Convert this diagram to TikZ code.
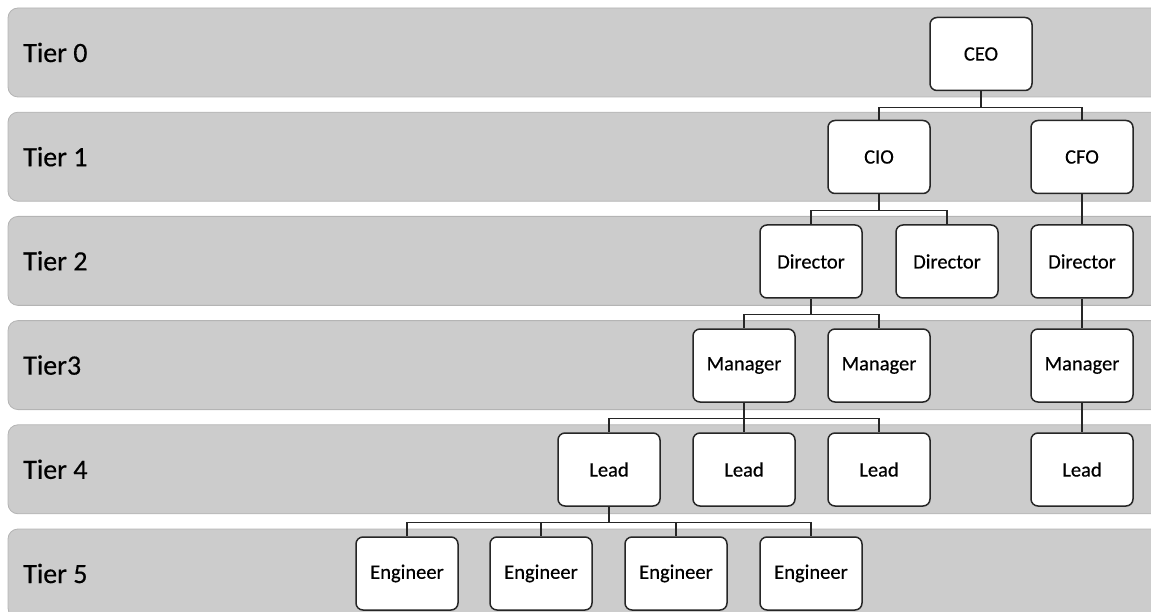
\documentclass[tikz,border=0pt]{standalone}
\usepackage{fontspec}
\setmainfont{Carlito}[FakeBold=0.4]
\definecolor{bandgray}{HTML}{CCCCCC}
\definecolor{bandedge}{HTML}{B4B4B4}
\begin{document}
\begin{tikzpicture}[x=1pt,y=-1pt,
  band/.style={fill=bandgray, draw=bandedge, line width=0.8pt, rounded corners=10pt},
  role/.style={draw=black!85, fill=white, line width=1.5pt, rounded corners=7pt,
    minimum width=102pt, minimum height=73pt, inner sep=0pt,
    font=\fontsize{20.5}{24}\selectfont},
  tierlabel/.style={anchor=west, inner sep=0pt, font=\fontsize{28}{32}\selectfont},
  link/.style={line width=1.2pt, draw=black!85},
  trunk/.style={line width=1.8pt, draw=black!85}]
\useasboundingbox (0,0) rectangle (1151,612);
\clip (0,0) rectangle (1151,612);
% bands
\foreach \i/\lab in {0/Tier 0,1/Tier 1,2/Tier 2,3/Tier3,4/Tier 4,5/Tier 5}{
  \pgfmathsetmacro{\top}{8+104.2*\i}
  \draw[band] (8,\top) rectangle (1170,\top+89);
  \node[tierlabel] (t\i) at (23,\top+44.5) {\lab};
}
% nodes
\node[role] (ceo) at (981,54) {CEO};
\node[role] (cio) at (879,157) {CIO};
\node[role] (cfo) at (1082,157) {CFO};
\node[role] (d1) at (811,261.5) {Director};
\node[role] (d2) at (947,261.5) {Director};
\node[role] (d3) at (1082,261.5) {Director};
\node[role] (m1) at (744,365.5) {Manager};
\node[role] (m2) at (879,365.5) {Manager};
\node[role] (m3) at (1082,365.5) {Manager};
\node[role] (l1) at (609,469.5) {Lead};
\node[role] (l2) at (744,469.5) {Lead};
\node[role] (l3) at (879,469.5) {Lead};
\node[role] (l4) at (1082,469.5) {Lead};
\node[role] (e1) at (407,573.5) {Engineer};
\node[role] (e2) at (541,573.5) {Engineer};
\node[role] (e3) at (676,573.5) {Engineer};
\node[role] (e4) at (811,573.5) {Engineer};
% connectors with bus
\foreach \p/\cs in {ceo/{cio,cfo}, cio/{d1,d2}, d1/{m1,m2}, m1/{l1,l2,l3}, l1/{e1,e2,e3,e4}}{
  \draw[trunk] (\p.south) -- ++(0,16);
  \foreach \c in \cs {
    \draw[link] (\p.south) ++(0,16) -| (\c.north);
  }
}
% straight connectors
\draw[link] (cfo.south) -- (d3.north);
\draw[link] (d3.south) -- (m3.north);
\draw[link] (m3.south) -- (l4.north);
\end{tikzpicture}
\end{document}
